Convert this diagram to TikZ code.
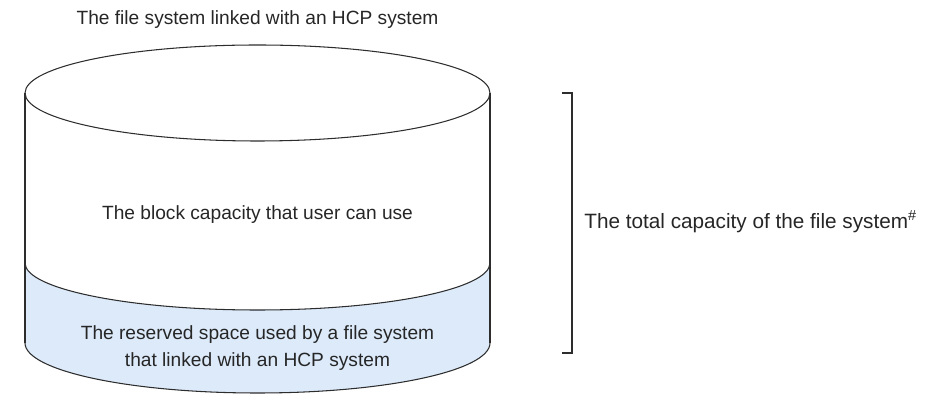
\documentclass[tikz,border=0pt]{standalone}
\usepackage{fontspec}
\setmainfont{Liberation Sans}
\usepackage{tikz}

\definecolor{reservedblue}{RGB}{220,234,250}
\definecolor{edgegray}{RGB}{45,45,45}

\begin{document}
\begin{tikzpicture}[x=0.02cm, y=0.02cm,
    label/.style={font=\fontsize{10.9}{15}\selectfont, text=black!85, align=center, inner sep=0pt},
    edge/.style={draw=edgegray, line width=0.6pt}
]
\useasboundingbox (0,0) rectangle (929,-394);
% reserved part (blue band)
\fill[reservedblue] (25,-263) arc[start angle=180, end angle=360, x radius=232.5, y radius=47]
    -- (490,-343) arc[start angle=360, end angle=180, x radius=232.5, y radius=50] -- cycle;
% cylinder outline
\draw[edge] (257.5,-93) ellipse[x radius=232.5, y radius=48];
\draw[edge] (25,-93) -- (25,-343);
\draw[edge] (490,-93) -- (490,-343);
\draw[edge] (25,-263) arc[start angle=180, end angle=360, x radius=232.5, y radius=47];
\draw[edge] (25,-343) arc[start angle=180, end angle=360, x radius=232.5, y radius=50];
% texts
\node[label] (title) at (257.5,-20) {The file system linked with an HCP system};
\node[label] (usable) at (257.5,-215) {The block capacity that user can use};
\node[label] (reserved) at (257.5,-348) {The reserved space used by a file system\\that linked with an HCP system};
% bracket
\coordinate (brtop) at (562,-93);
\coordinate (brbot) at (562,-353);
\draw[edge] (brtop) -- ++(10,0) |- (brbot);
\node[label, anchor=west, font=\fontsize{11.8}{15}\selectfont] (total) at (584,-222)
    {The total capacity of the file system\textsuperscript{\#}};
\end{tikzpicture}
\end{document}
